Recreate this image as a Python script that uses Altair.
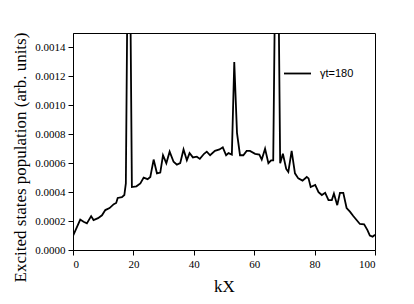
import altair as alt
import pandas as pd

kx = [0, 2.4, 3.5, 4.6, 6.0, 6.8, 8.3, 9.6, 10.7, 12.1, 13.5, 14.3, 14.8, 16.2, 17.0, 17.5,
      18.5, 19.5, 21.0, 22.3, 23.4, 24.7, 25.6, 26.7, 27.8, 28.9, 29.8, 30.9, 32.0, 33.3,
      34.4, 35.5, 36.6, 37.7, 38.6, 39.7, 41.0, 42.0, 43.4, 44.3, 45.4, 47.0, 48.5, 49.6,
      50.7, 51.5, 52.6, 53.4, 54.3, 55.3, 56.4, 57.5, 58.6, 60.3, 61.7, 62.5, 63.6, 64.7,
      65.6, 66.3, 67.5, 68.6, 69.5, 70.6, 71.3, 72.4, 73.5, 74.6, 76.0, 77.4, 78.0, 78.7,
      80.2, 81.3, 82.4, 83.5, 84.6, 85.7, 86.4, 87.5, 88.4, 89.5, 90.6, 91.7, 92.8, 93.9,
      95.0, 96.4, 97.5, 98.3, 99.2, 100]
population = [0.000097, 0.00021, 0.000195, 0.000184, 0.000234, 0.000207, 0.00022, 0.00024,
              0.000276, 0.00029, 0.000317, 0.000325, 0.00036, 0.000365, 0.00038, 0.00046,
              0.0030, 0.000435, 0.00044, 0.00046, 0.0005, 0.00049, 0.000505, 0.000625,
              0.00053, 0.000535, 0.000655, 0.0006, 0.00068, 0.00061, 0.00059, 0.0006,
              0.000695, 0.00062, 0.00067, 0.00064, 0.000645, 0.00063, 0.000665, 0.00068,
              0.000655, 0.000685, 0.000695, 0.00071, 0.000655, 0.00067, 0.00066, 0.0013,
              0.00081, 0.000655, 0.000655, 0.000685, 0.000685, 0.000665, 0.00066, 0.000625,
              0.0007, 0.0006, 0.00062, 0.00062, 0.0030, 0.0006, 0.000665, 0.00056, 0.00054,
              0.000685, 0.00053, 0.000495, 0.00048, 0.000505, 0.000495, 0.000435, 0.00045,
              0.0004, 0.00038, 0.000395, 0.000345, 0.000345, 0.00039, 0.00031, 0.000395,
              0.000395, 0.00029, 0.000265, 0.000235, 0.000207, 0.00018, 0.000177, 0.000138,
              0.0001, 0.000092, 0.000105]
series = ["\u03b3t=180"] * len(kx)

df = pd.DataFrame({"kX": kx, "pop": population, "series": series})

chart = alt.Chart(df).mark_line(clip=True, strokeWidth=1.8, interpolate="linear").encode(
    x=alt.X("kX:Q", scale=alt.Scale(domain=[0, 100], nice=False),
            axis=alt.Axis(title="kX", values=[0, 20, 40, 60, 80, 100], grid=False,
                          tickSize=5, labelPadding=3, titleX=151, titleY=41,
                          titleBaseline="alphabetic", titleAlign="center")),
    y=alt.Y("pop:Q", scale=alt.Scale(domain=[0, 0.0015], nice=False),
            axis=alt.Axis(title="Excited states population (arb. units)",
                          values=[0, 0.0002, 0.0004, 0.0006, 0.0008, 0.0010, 0.0012, 0.0014],
                          format=".4f", grid=False, tickSize=5, labelPadding=3,
                          titleX=-48, titleY=124, titleBaseline="alphabetic",
                          titleAlign="center", titleAngle=270)),
    color=alt.Color("series:N", scale=alt.Scale(range=["black"]),
                    legend=alt.Legend(title=None, orient="none", legendX=210, legendY=26,
                                      symbolType="stroke", symbolSize=729,
                                      symbolStrokeWidth=1.8, labelFont="Liberation Sans",
                                      labelFontSize=11, labelColor="black", padding=0,
                                      labelOffset=8)),
).properties(
    width=302, height=217,
    autosize=alt.AutoSizeParams(type="none"),
    padding={"left": 65, "top": 25, "right": 20, "bottom": 46},
).configure_view(
    stroke="black", strokeWidth=1
).configure_axis(
    domainColor="black", tickColor="black", labelColor="black", titleColor="black",
    labelFont="Liberation Serif", labelFontSize=11, titleFont="Liberation Serif",
    titleFontSize=17, titleFontWeight="normal"
)

chart.save("out.html", embed_options={"renderer": "svg", "actions": False})
